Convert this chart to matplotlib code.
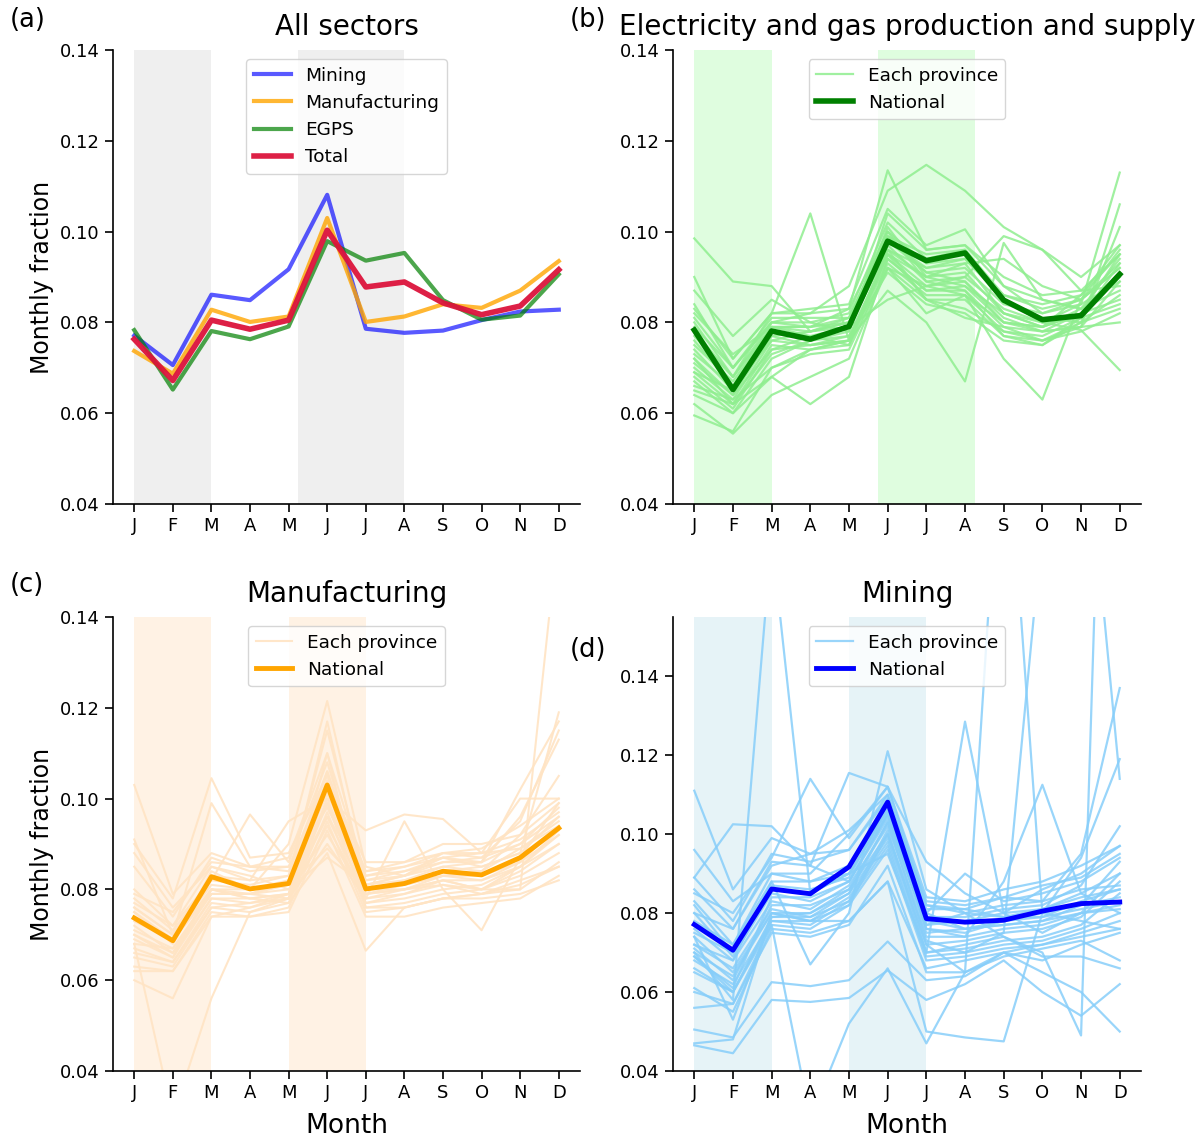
import matplotlib
matplotlib.use("Agg")
import matplotlib.pyplot as plt
import numpy as np

plt.rcParams['font.family'] = ['DejaVu Sans']

months = ['J', 'F', 'M', 'A', 'M', 'J', 'J', 'A', 'S', 'O', 'N', 'D']

# Panel (a) national series
mining_nat = [0.0771, 0.0706, 0.0861, 0.0849, 0.0917, 0.1081, 0.0786, 0.0777, 0.0782, 0.0805, 0.0824, 0.0828]
manuf_nat = [0.0737, 0.0687, 0.0828, 0.0801, 0.0813, 0.1030, 0.0801, 0.0813, 0.0840, 0.0832, 0.0870, 0.0935]
egps_nat = [0.0783, 0.0652, 0.0781, 0.0763, 0.0791, 0.0979, 0.0936, 0.0953, 0.0849, 0.0806, 0.0815, 0.0906]
total_nat = [0.0763, 0.0672, 0.0805, 0.0785, 0.0805, 0.1003, 0.0878, 0.0889, 0.0843, 0.0817, 0.0836, 0.0916]

# Panel (b) provinces: electricity and gas
egps_prov = [
    [0.0985, 0.0890, 0.0880, 0.0780, 0.0800, 0.0960, 0.0920, 0.0940, 0.0850, 0.0800, 0.0810, 0.0900],
    [0.0900, 0.0720, 0.0820, 0.1040, 0.0760, 0.0950, 0.0900, 0.0930, 0.0820, 0.0790, 0.0820, 0.0950],
    [0.0840, 0.0700, 0.0800, 0.0820, 0.0880, 0.1090, 0.1147, 0.1090, 0.1010, 0.0960, 0.0900, 0.0970],
    [0.0800, 0.0680, 0.0790, 0.0790, 0.0830, 0.1135, 0.0960, 0.0970, 0.0880, 0.0820, 0.0840, 0.1130],
    [0.0720, 0.0620, 0.0680, 0.0740, 0.0760, 0.0870, 0.0800, 0.0670, 0.0975, 0.0850, 0.0830, 0.0900],
    [0.0620, 0.0555, 0.0640, 0.0680, 0.0720, 0.0920, 0.0880, 0.0860, 0.0720, 0.0630, 0.0850, 0.0920],
    [0.0595, 0.0560, 0.0700, 0.0740, 0.0760, 0.0960, 0.0850, 0.0830, 0.0780, 0.0760, 0.0790, 0.0800],
    [0.0640, 0.0600, 0.0680, 0.0620, 0.0680, 0.0940, 0.0870, 0.0880, 0.0800, 0.0780, 0.0790, 0.1060],
    [0.0870, 0.0770, 0.0850, 0.0800, 0.0820, 0.1020, 0.0940, 0.0960, 0.0850, 0.0810, 0.0800, 0.1010],
    [0.0830, 0.0720, 0.0820, 0.0830, 0.0840, 0.1050, 0.0970, 0.1005, 0.0880, 0.0850, 0.0830, 0.0940],
    [0.0810, 0.0700, 0.0810, 0.0810, 0.0810, 0.1000, 0.0930, 0.0940, 0.0860, 0.0830, 0.0850, 0.0960],
    [0.0780, 0.0680, 0.0800, 0.0790, 0.0800, 0.0980, 0.0910, 0.0920, 0.0840, 0.0820, 0.0850, 0.0930],
    [0.0760, 0.0660, 0.0790, 0.0770, 0.0790, 0.0970, 0.0890, 0.0900, 0.0830, 0.0800, 0.0840, 0.0890],
    [0.0740, 0.0650, 0.0780, 0.0760, 0.0770, 0.0950, 0.0880, 0.0890, 0.0800, 0.0790, 0.0830, 0.0870],
    [0.0720, 0.0640, 0.0770, 0.0750, 0.0760, 0.0940, 0.0870, 0.0870, 0.0790, 0.0780, 0.0820, 0.0850],
    [0.0700, 0.0630, 0.0760, 0.0750, 0.0760, 0.0930, 0.0860, 0.0860, 0.0780, 0.0770, 0.0810, 0.0840],
    [0.0690, 0.0620, 0.0750, 0.0740, 0.0750, 0.0920, 0.0850, 0.0850, 0.0770, 0.0760, 0.0800, 0.0830],
    [0.0680, 0.0610, 0.0740, 0.0750, 0.0770, 0.0910, 0.0840, 0.0820, 0.0760, 0.0750, 0.0800, 0.0860],
    [0.0670, 0.0600, 0.0720, 0.0760, 0.0780, 0.1010, 0.0900, 0.0910, 0.0820, 0.0790, 0.0820, 0.0910],
    [0.0750, 0.0670, 0.0790, 0.0780, 0.0800, 0.0990, 0.0950, 0.0960, 0.0860, 0.0840, 0.0860, 0.0970],
    [0.0790, 0.0700, 0.0800, 0.0800, 0.0780, 0.1040, 0.0960, 0.0970, 0.0900, 0.0860, 0.0870, 0.0950],
    [0.0730, 0.0660, 0.0760, 0.0780, 0.0790, 0.0960, 0.0900, 0.0880, 0.0820, 0.0800, 0.0783, 0.0695],
    [0.0650, 0.0620, 0.0730, 0.0760, 0.0790, 0.0850, 0.0880, 0.0900, 0.0990, 0.0960, 0.0870, 0.0880],
    [0.0820, 0.0730, 0.0790, 0.0790, 0.0810, 0.0980, 0.0920, 0.0930, 0.0940, 0.0880, 0.0850, 0.0920],
    [0.0690, 0.0650, 0.0770, 0.0780, 0.0810, 0.0990, 0.0910, 0.0890, 0.0810, 0.0780, 0.0790, 0.0890],
    [0.0770, 0.0680, 0.0820, 0.0820, 0.0830, 0.1000, 0.0890, 0.0870, 0.0770, 0.0750, 0.0810, 0.0930],
    [0.0710, 0.0640, 0.0740, 0.0770, 0.0750, 0.0950, 0.0850, 0.0810, 0.0790, 0.0760, 0.0780, 0.0820],
    [0.0660, 0.0630, 0.0700, 0.0730, 0.0740, 0.0920, 0.0820, 0.0860, 0.0800, 0.0790, 0.0860, 0.0950],
]

# Panel (c) provinces: manufacturing
manuf_prov = [
    [0.1030, 0.0790, 0.0880, 0.0850, 0.0850, 0.0980, 0.0820, 0.0830, 0.0850, 0.0860, 0.0900, 0.0960],
    [0.0900, 0.0780, 0.1045, 0.0870, 0.0880, 0.1050, 0.0840, 0.0850, 0.0870, 0.0880, 0.1000, 0.1000],
    [0.0680, 0.0300, 0.0560, 0.0750, 0.0780, 0.0900, 0.0780, 0.0800, 0.0820, 0.0800, 0.0850, 0.0920],
    [0.0700, 0.0650, 0.0800, 0.0780, 0.0790, 0.0960, 0.0790, 0.0800, 0.0820, 0.0800, 0.0800, 0.1600],
    [0.0750, 0.0680, 0.0840, 0.0800, 0.0900, 0.1215, 0.0850, 0.0830, 0.0870, 0.0850, 0.0880, 0.1190],
    [0.0720, 0.0660, 0.0800, 0.0780, 0.0770, 0.0880, 0.0665, 0.0760, 0.0780, 0.0790, 0.0800, 0.0860],
    [0.0780, 0.0710, 0.0820, 0.0810, 0.0830, 0.1150, 0.0820, 0.0840, 0.0860, 0.0860, 0.1020, 0.1170],
    [0.0800, 0.0720, 0.0820, 0.0965, 0.0860, 0.1080, 0.0800, 0.0800, 0.0830, 0.0840, 0.0920, 0.1050],
    [0.0760, 0.0700, 0.0830, 0.0820, 0.0950, 0.1000, 0.0930, 0.0965, 0.0955, 0.0880, 0.0890, 0.0940],
    [0.0740, 0.0690, 0.0790, 0.0790, 0.0780, 0.0940, 0.0780, 0.0950, 0.0800, 0.0710, 0.0870, 0.0990],
    [0.0600, 0.0560, 0.0740, 0.0760, 0.0790, 0.1000, 0.0790, 0.0800, 0.0810, 0.0800, 0.0840, 0.0900],
    [0.0910, 0.0700, 0.0990, 0.0850, 0.0840, 0.1060, 0.0810, 0.0830, 0.0880, 0.0870, 0.0950, 0.1150],
    [0.0690, 0.0650, 0.0780, 0.0770, 0.0790, 0.1020, 0.0780, 0.0790, 0.0820, 0.0820, 0.0860, 0.0920],
    [0.0670, 0.0640, 0.0770, 0.0760, 0.0780, 0.0990, 0.0770, 0.0780, 0.0800, 0.0810, 0.0850, 0.0900],
    [0.0650, 0.0630, 0.0760, 0.0750, 0.0770, 0.0970, 0.0760, 0.0770, 0.0790, 0.0800, 0.0830, 0.0880],
    [0.0630, 0.0620, 0.0750, 0.0740, 0.0760, 0.0950, 0.0750, 0.0760, 0.0780, 0.0790, 0.0820, 0.0850],
    [0.0620, 0.0620, 0.0740, 0.0740, 0.0750, 0.0930, 0.0740, 0.0740, 0.0760, 0.0770, 0.0780, 0.0830],
    [0.0710, 0.0670, 0.0790, 0.0790, 0.0800, 0.0920, 0.0790, 0.0810, 0.0830, 0.0830, 0.0860, 0.0940],
    [0.0730, 0.0690, 0.0800, 0.0800, 0.0810, 0.0890, 0.0800, 0.0820, 0.0840, 0.0850, 0.0880, 0.0960],
    [0.0770, 0.0720, 0.0850, 0.0830, 0.0800, 0.0870, 0.0810, 0.0830, 0.0860, 0.0870, 0.0900, 0.0980],
    [0.0790, 0.0750, 0.0860, 0.0850, 0.0870, 0.1100, 0.0830, 0.0850, 0.0880, 0.0890, 0.0940, 0.1000],
    [0.0850, 0.0740, 0.0870, 0.0840, 0.0850, 0.1040, 0.0860, 0.0860, 0.0900, 0.0900, 0.0920, 0.0990],
    [0.0880, 0.0760, 0.0850, 0.0820, 0.0830, 0.1010, 0.0840, 0.0860, 0.0880, 0.0880, 0.0910, 0.0970],
    [0.0660, 0.0640, 0.0760, 0.0770, 0.0780, 0.1100, 0.0760, 0.0760, 0.0780, 0.0780, 0.0790, 0.0820],
    [0.0700, 0.0660, 0.0780, 0.0780, 0.0790, 0.0990, 0.0770, 0.0790, 0.0810, 0.0790, 0.0810, 0.0850],
    [0.0760, 0.0700, 0.0810, 0.0800, 0.0820, 0.1060, 0.0810, 0.0820, 0.0850, 0.0840, 0.0890, 0.0950],
    [0.0750, 0.0690, 0.0800, 0.0790, 0.0810, 0.0960, 0.0830, 0.0840, 0.0870, 0.0860, 0.0960, 0.1130],
    [0.0680, 0.0670, 0.0790, 0.0790, 0.0820, 0.1170, 0.0800, 0.0810, 0.0830, 0.0820, 0.0850, 0.0930],
]

# Panel (d) provinces: mining
mining_prov = [
    [0.1110, 0.0860, 0.0990, 0.0950, 0.0960, 0.1100, 0.0820, 0.0800, 0.0790, 0.0810, 0.0850, 0.0900],
    [0.0960, 0.0830, 0.0900, 0.0900, 0.1000, 0.1120, 0.0840, 0.0830, 0.0860, 0.0880, 0.0920, 0.0970],
    [0.0700, 0.0580, 0.1750, 0.0850, 0.0900, 0.1050, 0.0780, 0.0760, 0.0780, 0.0790, 0.0830, 0.0860],
    [0.0890, 0.1025, 0.1020, 0.0920, 0.0880, 0.1050, 0.0800, 0.0760, 0.0770, 0.0780, 0.0800, 0.0810],
    [0.0850, 0.0800, 0.0940, 0.1140, 0.0990, 0.1120, 0.0820, 0.0810, 0.0790, 0.0790, 0.0810, 0.0830],
    [0.0800, 0.0760, 0.0930, 0.0920, 0.1155, 0.1120, 0.0930, 0.0850, 0.0800, 0.0810, 0.0840, 0.0860],
    [0.0780, 0.0720, 0.0880, 0.0670, 0.0800, 0.1210, 0.0860, 0.0800, 0.0820, 0.0830, 0.0860, 0.0870],
    [0.0505, 0.0485, 0.0625, 0.0615, 0.0630, 0.0728, 0.0630, 0.0640, 0.0700, 0.0720, 0.0750, 0.0780],
    [0.0465, 0.0445, 0.0580, 0.0575, 0.0585, 0.0655, 0.0580, 0.0620, 0.0680, 0.0600, 0.0540, 0.0620],
    [0.0470, 0.0480, 0.0800, 0.0780, 0.0780, 0.0880, 0.0500, 0.0485, 0.0475, 0.0800, 0.0820, 0.0840],
    [0.0560, 0.0570, 0.0770, 0.0280, 0.0520, 0.0660, 0.0470, 0.0650, 0.0700, 0.0680, 0.0720, 0.0750],
    [0.0720, 0.0680, 0.0880, 0.0880, 0.0900, 0.0950, 0.0700, 0.1285, 0.0800, 0.0750, 0.0800, 0.0820],
    [0.0690, 0.0600, 0.0780, 0.0780, 0.0820, 0.1000, 0.0720, 0.0650, 0.2160, 0.0800, 0.0780, 0.0760],
    [0.0740, 0.0650, 0.0800, 0.0800, 0.0850, 0.1030, 0.0730, 0.0700, 0.0750, 0.1780, 0.2165, 0.1140],
    [0.0660, 0.0600, 0.0790, 0.0790, 0.0830, 0.1010, 0.0700, 0.0720, 0.0740, 0.0700, 0.0490, 0.3600],
    [0.0830, 0.0720, 0.0900, 0.0880, 0.0920, 0.1060, 0.0760, 0.0740, 0.0880, 0.1125, 0.0850, 0.0800],
    [0.0890, 0.0780, 0.0950, 0.0930, 0.0960, 0.1090, 0.0830, 0.0820, 0.0840, 0.0830, 0.0950, 0.1370],
    [0.0820, 0.0700, 0.0860, 0.0850, 0.0900, 0.1060, 0.0790, 0.0790, 0.0810, 0.0820, 0.0870, 0.1020],
    [0.0800, 0.0690, 0.0850, 0.0830, 0.0880, 0.1040, 0.0770, 0.0780, 0.0800, 0.0860, 0.0900, 0.0970],
    [0.0760, 0.0680, 0.0830, 0.0810, 0.0870, 0.1020, 0.0750, 0.0760, 0.0770, 0.0780, 0.0820, 0.0930],
    [0.0740, 0.0530, 0.0790, 0.0800, 0.0860, 0.1000, 0.0740, 0.0740, 0.0760, 0.0770, 0.0800, 0.0900],
    [0.0720, 0.0660, 0.0810, 0.0790, 0.0850, 0.0990, 0.0720, 0.0730, 0.0750, 0.0760, 0.0790, 0.0880],
    [0.0700, 0.0640, 0.0800, 0.0780, 0.0840, 0.0980, 0.0700, 0.0710, 0.0730, 0.0740, 0.0770, 0.0850],
    [0.0680, 0.0620, 0.0780, 0.0770, 0.0830, 0.0970, 0.0690, 0.0700, 0.0720, 0.0730, 0.0760, 0.0800],
    [0.0650, 0.0600, 0.0770, 0.0760, 0.0820, 0.0960, 0.0680, 0.0690, 0.0710, 0.0720, 0.0740, 0.0760],
    [0.0610, 0.0550, 0.0760, 0.0750, 0.0780, 0.0880, 0.0660, 0.0680, 0.0700, 0.0650, 0.0600, 0.0500],
    [0.0600, 0.0570, 0.0750, 0.0740, 0.0770, 0.0920, 0.0650, 0.0650, 0.0690, 0.0710, 0.0730, 0.0680],
    [0.0860, 0.0760, 0.0920, 0.0950, 0.1010, 0.1100, 0.0800, 0.0900, 0.0830, 0.0850, 0.0880, 0.0940],
    [0.0690, 0.0610, 0.0840, 0.0840, 0.0880, 0.1050, 0.0760, 0.0750, 0.0780, 0.0800, 0.0940, 0.1190],
    [0.0710, 0.0630, 0.0820, 0.0820, 0.0860, 0.1030, 0.0770, 0.0800, 0.0740, 0.0690, 0.0690, 0.0660],
    [0.0750, 0.0700, 0.0870, 0.0860, 0.0890, 0.1070, 0.0810, 0.0810, 0.0840, 0.0870, 0.0890, 0.0950],
]

yticks = [0.04, 0.06, 0.08, 0.10, 0.12, 0.14]

W, H = 1202, 1141
fig = plt.figure(figsize=(W / 100, H / 100), dpi=100)


def ax_at(l, t, r, b):
    return fig.add_axes([l / W, 1 - b / H, (r - l) / W, (b - t) / H])


axa = ax_at(113, 50, 580, 504)
axb = ax_at(673, 50, 1141, 504)
axc = ax_at(113, 617, 580, 1071)
axd = ax_at(673, 617, 1141, 1071)

x = np.arange(12)
TICK_FS = 13
TITLE_FS = 20
YLAB_FS = 17
XLAB_FS = 19
LEG_FS = 13.3


def style(ax, ylim):
    ax.set_xlim(-0.55, 11.55)
    ax.set_ylim(*ylim)
    ax.set_xticks(x)
    ax.set_xticklabels(months)
    ax.set_yticks(yticks)
    ax.set_yticklabels([f"{v:.2f}" for v in yticks])
    ax.tick_params(labelsize=TICK_FS, length=6, width=1.2)
    for s in ['top', 'right']:
        ax.spines[s].set_visible(False)
    for s in ['left', 'bottom']:
        ax.spines[s].set_linewidth(1.2)


# (a)
axa.axvspan(0, 2, color='lightgray', alpha=0.35, lw=0)
axa.axvspan(4.25, 7, color='lightgray', alpha=0.35, lw=0)
axa.plot(x, mining_nat, color='blue', alpha=0.65, lw=3, label='Mining')
axa.plot(x, manuf_nat, color='orange', alpha=0.8, lw=3, label='Manufacturing')
axa.plot(x, egps_nat, color='green', alpha=0.7, lw=3, label='EGPS')
axa.plot(x, total_nat, color='crimson', alpha=0.95, lw=4, label='Total')
style(axa, (0.04, 0.14))
axa.set_title('All sectors', fontsize=TITLE_FS, pad=11)
axa.set_ylabel('Monthly fraction', fontsize=YLAB_FS)
axa.legend(loc='upper center', fontsize=LEG_FS)

# (b)
axb.axvspan(0, 2, color='palegreen', alpha=0.3, lw=0)
axb.axvspan(4.75, 7.25, color='palegreen', alpha=0.3, lw=0)
for i, s in enumerate(egps_prov):
    axb.plot(x, s, color='lightgreen', alpha=0.85, lw=1.6,
             label='Each province' if i == 0 else None)
axb.plot(x, egps_nat, color='green', lw=4, label='National')
style(axb, (0.04, 0.14))
axb.set_title('Electricity and gas production and supply', fontsize=TITLE_FS, pad=11)
axb.legend(loc='upper center', fontsize=LEG_FS)

# (c)
axc.axvspan(0, 2, color='bisque', alpha=0.45, lw=0)
axc.axvspan(4, 6, color='bisque', alpha=0.45, lw=0)
for i, s in enumerate(manuf_prov):
    axc.plot(x, s, color='bisque', alpha=0.9, lw=1.5,
             label='Each province' if i == 0 else None)
axc.plot(x, manuf_nat, color='orange', lw=3.5, label='National')
style(axc, (0.04, 0.14))
axc.set_title('Manufacturing', fontsize=TITLE_FS, pad=11)
axc.set_ylabel('Monthly fraction', fontsize=YLAB_FS)
axc.set_xlabel('Month', fontsize=XLAB_FS, labelpad=8)
axc.legend(loc='upper center', fontsize=LEG_FS)

# (d)
axd.axvspan(0, 2, color='lightblue', alpha=0.3, lw=0)
axd.axvspan(4, 6, color='lightblue', alpha=0.3, lw=0)
for i, s in enumerate(mining_prov):
    axd.plot(x, s, color='lightskyblue', alpha=0.85, lw=1.6,
             label='Each province' if i == 0 else None)
axd.plot(x, mining_nat, color='blue', lw=3.5, label='National')
style(axd, (0.04, 0.155))
axd.set_title('Mining', fontsize=TITLE_FS, pad=11)
axd.set_xlabel('Month', fontsize=XLAB_FS, labelpad=8)
axd.legend(loc='upper center', fontsize=LEG_FS)

# panel labels
fig.text(10 / W, 1 - 20 / H, '(a)', fontsize=18.5, va='center', ha='left')
fig.text(570 / W, 1 - 20 / H, '(b)', fontsize=18.5, va='center', ha='left')
fig.text(10 / W, 1 - 585 / H, '(c)', fontsize=18.5, va='center', ha='left')
fig.text(570 / W, 1 - 650 / H, '(d)', fontsize=18.5, va='center', ha='left')

fig.savefig('out.png', dpi=100)
